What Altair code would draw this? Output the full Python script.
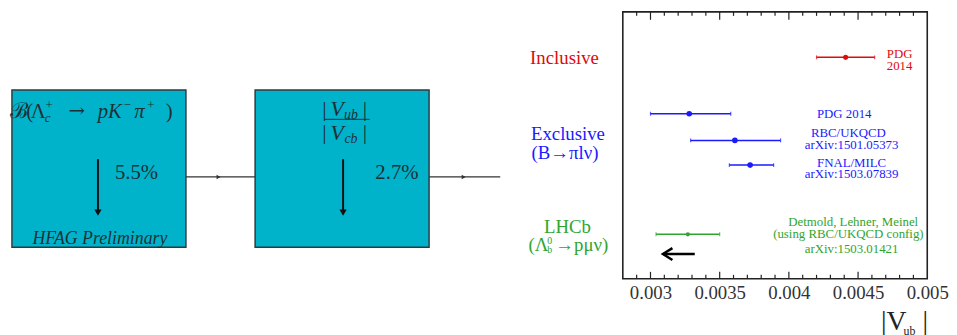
import altair as alt
import pandas as pd

RED = "#e00a0a"
BLUE = "#1a1aff"
GREEN = "#2fa52f"
BOXC = "#00b3cb"
INK = "#1d3036"
FONT = "Liberation Serif"

# ---------------- |Vub| measurements (right panel) ----------------
meas_name = ["Inclusive PDG 2014", "Exclusive PDG 2014", "RBC/UKQCD", "FNAL/MILC", "LHCb"]
meas_center = [0.00441, 0.00328, 0.00361, 0.00372, 0.00327]
meas_low = [0.00420, 0.00300, 0.00329, 0.00357, 0.00304]
meas_high = [0.00462, 0.00358, 0.00394, 0.00389, 0.00350]
meas_row = [46, 103, 130, 155, 225]
meas_color = [RED, BLUE, BLUE, BLUE, GREEN]
meas_dot = [26, 32, 32, 32, 18]

ref_text = ["PDG", "2014", "PDG 2014", "RBC/UKQCD", "arXiv:1501.05373", "FNAL/MILC",
            "arXiv:1503.07839", "Detmold, Lehner, Meinel", "(using RBC/UKQCD config)",
            "arXiv:1503.01421"]
ref_x = [0.0048, 0.0048, 0.00440, 0.00443, 0.004453, 0.004453, 0.004453, 0.004465, 0.00443, 0.004453]
ref_row = [47, 59, 107, 127, 139, 157, 168.5, 217, 229, 244]
ref_color = [RED, RED, BLUE, BLUE, BLUE, BLUE, BLUE, GREEN, GREEN, GREEN]

tick_labels = [0.003, 0.0035, 0.004, 0.0045, 0.005]
major_ticks = [0.003, 0.0035, 0.004, 0.0045]
minor_ticks = [0.0029, 0.0031, 0.0032, 0.0033, 0.0034, 0.0036, 0.0037, 0.0038, 0.0039,
               0.0041, 0.0042, 0.0043, 0.0044, 0.0046, 0.0047, 0.0048, 0.0049]

limit_arrow_x = [0.00309, 0.00332]
limit_arrow_row = 245

# ---------------- diagram (left panel) ----------------
box_x0 = [3, 249]
box_x1 = [179, 425]
box_y0 = [79, 79]
box_y1 = [238, 238]

flow_x0 = [179, 425]
flow_x1 = [249, 497]
flow_y = [167, 167]
flow_head_x = [212, 460]

down_x = [90, 338]
down_y0 = [149, 149]
down_y1 = [203, 203]

frac_x = [319, 365]
frac_y = 108.7

up_text = ["ℬ", "(", "Λ", "+", "−", "+", ")", "5.5%", "2.7%", "|", "|", "|", "|"]
up_x = [10.5, 21, 29.5, 40.5, 119.5, 143.5, 162, 129, 392.5, 319, 360, 319, 360]
up_y = [107, 107, 107, 98, 98, 98, 107, 169, 169, 105, 105, 129, 129]
up_size = [22, 21, 21, 13, 13, 13, 21, 21, 21, 22, 22, 22, 22]

arr_text = ["→"]
arr_x = [68.5]
arr_y = [106]
arr_size = [20]

it_text = ["c", "pK", "π", "HFAG Preliminary", "V", "ub", "V", "cb"]
it_x = [39, 102, 132, 92, 332, 346, 332, 346]
it_y = [111, 107, 107, 235, 105, 108, 130, 133]
it_size = [13, 21, 21, 18, 22, 14, 22, 14]

cat_text = ["Inclusive", "Exclusive", "(B→πlν)", "LHCb", "(Λ", "0", "b", "→pμν)"]
cat_x = [562, 565.5, 562.5, 565, 535.5, 547, 547, 579.5]
cat_y = [53, 130, 149, 224, 242, 235, 244, 242]
cat_size = [19, 19, 19, 19, 19, 10, 10, 19]
cat_color = [RED, BLUE, BLUE, GREEN, GREEN, GREEN, GREEN, GREEN]

# ---------------- build left panel ----------------
LW, H = 618, 270
lx = alt.Scale(domain=[0, LW], nice=False, zero=False)
ly = alt.Scale(domain=[0, H], reverse=True, nice=False, zero=False)

canvas = alt.Chart(pd.DataFrame({"a": [0]})).mark_rect(fill="transparent", strokeOpacity=0).encode(
    x=alt.value(0), x2=alt.value(LW), y=alt.value(0), y2=alt.value(H))

boxes = pd.DataFrame({"x": box_x0, "x2": box_x1, "y": box_y0, "y2": box_y1})
box_layer = alt.Chart(boxes).mark_rect(fill=BOXC, stroke="#2d3b3f", strokeWidth=1.5).encode(
    x=alt.X("x:Q", scale=lx, axis=None), x2="x2:Q",
    y=alt.Y("y:Q", scale=ly, axis=None), y2="y2:Q")

flows = pd.DataFrame({"x": flow_x0, "x2": flow_x1, "y": flow_y})
flow_layer = alt.Chart(flows).mark_rule(color="#333333", strokeWidth=1.2).encode(
    x=alt.X("x:Q", scale=lx, axis=None), x2="x2:Q", y=alt.Y("y:Q", scale=ly, axis=None))
heads = pd.DataFrame({"x": flow_head_x, "y": flow_y})
head_layer = alt.Chart(heads).mark_point(shape="triangle-right", filled=True, size=22,
                                         color="#333333", opacity=1).encode(
    x=alt.X("x:Q", scale=lx, axis=None), y=alt.Y("y:Q", scale=ly, axis=None))

downs = pd.DataFrame({"x": down_x, "y": down_y0, "y2": down_y1})
down_layer = alt.Chart(downs).mark_rule(color="#111111", strokeWidth=2).encode(
    x=alt.X("x:Q", scale=lx, axis=None), y=alt.Y("y:Q", scale=ly, axis=None), y2="y2:Q")
dhead = pd.DataFrame({"x": down_x, "y": down_y1})
dhead_layer = alt.Chart(dhead).mark_point(shape="triangle-down", filled=True, size=55,
                                          color="#111111", opacity=1).encode(
    x=alt.X("x:Q", scale=lx, axis=None), y=alt.Y("y:Q", scale=ly, axis=None))

frac = pd.DataFrame({"x": [frac_x[0]], "x2": [frac_x[1]], "y": [frac_y]})
frac_layer = alt.Chart(frac).mark_rule(color=INK, strokeWidth=1).encode(
    x=alt.X("x:Q", scale=lx, axis=None), x2="x2:Q", y=alt.Y("y:Q", scale=ly, axis=None))

up_df = pd.DataFrame({"t": up_text, "x": up_x, "y": up_y, "s": up_size})
up_layer = alt.Chart(up_df).mark_text(font=FONT, baseline="alphabetic", align="center", color=INK).encode(
    x=alt.X("x:Q", scale=lx, axis=None), y=alt.Y("y:Q", scale=ly, axis=None),
    text="t:N", size=alt.Size("s:Q", scale=None, legend=None))

arr_df = pd.DataFrame({"t": arr_text, "x": arr_x, "y": arr_y, "s": arr_size})
arr_layer = alt.Chart(arr_df).mark_text(font="DejaVu Serif", baseline="alphabetic", align="center",
                                        color=INK).encode(
    x=alt.X("x:Q", scale=lx, axis=None), y=alt.Y("y:Q", scale=ly, axis=None),
    text="t:N", size=alt.Size("s:Q", scale=None, legend=None))

it_df = pd.DataFrame({"t": it_text, "x": it_x, "y": it_y, "s": it_size})
it_layer = alt.Chart(it_df).mark_text(font=FONT, fontStyle="italic", baseline="alphabetic",
                                      align="center", color=INK).encode(
    x=alt.X("x:Q", scale=lx, axis=None), y=alt.Y("y:Q", scale=ly, axis=None),
    text="t:N", size=alt.Size("s:Q", scale=None, legend=None))

cat_df = pd.DataFrame({"t": cat_text, "x": cat_x, "y": cat_y, "s": cat_size, "c": cat_color})
cat_layer = alt.Chart(cat_df).mark_text(font=FONT, baseline="alphabetic", align="center").encode(
    x=alt.X("x:Q", scale=lx, axis=None), y=alt.Y("y:Q", scale=ly, axis=None),
    text="t:N", size=alt.Size("s:Q", scale=None, legend=None),
    color=alt.Color("c:N", scale=None, legend=None))

left = alt.layer(canvas, box_layer, flow_layer, head_layer, down_layer, dhead_layer, frac_layer,
                 up_layer, arr_layer, it_layer, cat_layer).properties(width=LW, height=H)

# ---------------- build right panel ----------------
RW = 308
rx = alt.Scale(domain=[0.0028, 0.005], nice=False, zero=False)
ry = alt.Scale(domain=[0, H], reverse=True, nice=False, zero=False)

meas = pd.DataFrame({"name": meas_name, "x": meas_center, "lo": meas_low, "hi": meas_high,
                     "y": meas_row, "c": meas_color, "d": meas_dot})

xaxis = alt.Axis(values=tick_labels, format="~g", ticks=False, domain=False, grid=False,
                 labelFont=FONT, labelFontSize=19, labelColor="#333333", labelPadding=5,
                 labelFlush=False, labelOverlap=False, title="")

bars = alt.Chart(meas).mark_rule(strokeWidth=1.5).encode(
    x=alt.X("lo:Q", scale=rx, axis=xaxis), x2="hi:Q",
    y=alt.Y("y:Q", scale=ry, axis=None),
    color=alt.Color("c:N", scale=None, legend=None))

caps_lo = alt.Chart(meas).mark_tick(orient="vertical", size=4, thickness=1.2).encode(
    x=alt.X("lo:Q", scale=rx), y=alt.Y("y:Q", scale=ry),
    color=alt.Color("c:N", scale=None, legend=None))
caps_hi = alt.Chart(meas).mark_tick(orient="vertical", size=4, thickness=1.2).encode(
    x=alt.X("hi:Q", scale=rx), y=alt.Y("y:Q", scale=ry),
    color=alt.Color("c:N", scale=None, legend=None))

dots = alt.Chart(meas).mark_point(filled=True, opacity=1).encode(
    x=alt.X("x:Q", scale=rx), y=alt.Y("y:Q", scale=ry),
    color=alt.Color("c:N", scale=None, legend=None),
    size=alt.Size("d:Q", scale=None, legend=None))

refs = pd.DataFrame({"t": ref_text, "x": ref_x, "y": ref_row, "c": ref_color})
ref_layer = alt.Chart(refs).mark_text(font=FONT, fontSize=13, baseline="alphabetic", align="center").encode(
    x=alt.X("x:Q", scale=rx), y=alt.Y("y:Q", scale=ry), text="t:N",
    color=alt.Color("c:N", scale=None, legend=None))

arrow = pd.DataFrame({"x": [limit_arrow_x[0]], "x2": [limit_arrow_x[1]], "y": [limit_arrow_row]})
arrow_rule = alt.Chart(arrow).mark_rule(color="black", strokeWidth=2.5).encode(
    x=alt.X("x:Q", scale=rx), x2="x2:Q", y=alt.Y("y:Q", scale=ry))
arrow_head = alt.Chart(arrow).mark_point(shape="M1.6,-1L0,0L1.6,1", filled=False, size=144,
                                         strokeWidth=2.5, color="black", opacity=1).encode(
    x=alt.X("x:Q", scale=rx), y=alt.Y("y:Q", scale=ry))

maj = pd.DataFrame({"x": major_ticks})
mnr = pd.DataFrame({"x": minor_ticks})
tk = dict(color="#222222", strokeWidth=1.2)
t1 = alt.Chart(maj).mark_rule(**tk).encode(x=alt.X("x:Q", scale=rx), y=alt.value(0), y2=alt.value(8))
t2 = alt.Chart(mnr).mark_rule(**tk).encode(x=alt.X("x:Q", scale=rx), y=alt.value(0), y2=alt.value(4))
t3 = alt.Chart(maj).mark_rule(**tk).encode(x=alt.X("x:Q", scale=rx), y=alt.value(H - 7), y2=alt.value(H))
t4 = alt.Chart(mnr).mark_rule(**tk).encode(x=alt.X("x:Q", scale=rx), y=alt.value(H - 4), y2=alt.value(H))

frame = alt.Chart(pd.DataFrame({"a": [0]})).mark_rect(fill="transparent", stroke="#222222",
                                                     strokeWidth=1.6).encode(
    x=alt.value(0), x2=alt.value(RW), y=alt.value(0), y2=alt.value(H))

title_df = pd.DataFrame({"t": ["|V", "ub", "|"], "px": [274, 290, 306], "py": [322, 327, 322],
                         "s": [28, 12, 28]})
title_layer = alt.Chart(title_df).mark_text(font=FONT, baseline="alphabetic", align="center",
                                            color="#222222").encode(
    x=alt.X("px:Q", scale=None), y=alt.Y("py:Q", scale=None), text="t:N",
    size=alt.Size("s:Q", scale=None, legend=None))

right = alt.layer(bars, caps_lo, caps_hi, dots, ref_layer, arrow_rule, arrow_head,
                  t1, t2, t3, t4, frame, title_layer).properties(width=RW, height=H)

chart = alt.hconcat(left, right, spacing=0).properties(padding=0).configure_view(
    stroke="transparent")

chart.save("out.html", embed_options={"renderer": "svg", "actions": False})
